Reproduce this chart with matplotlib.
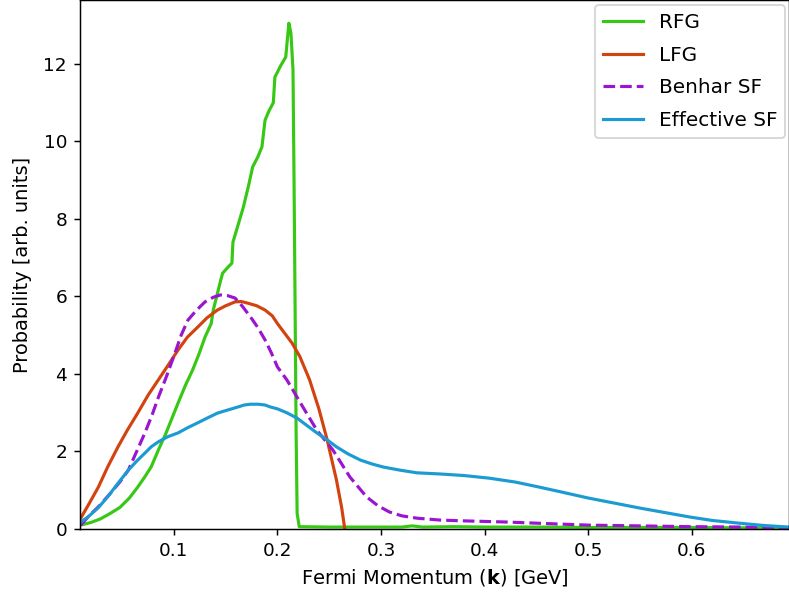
import matplotlib
matplotlib.use("Agg")
import matplotlib.pyplot as plt

# RFG
rfg_x = [0.010, 0.020, 0.029, 0.039, 0.048, 0.057, 0.065, 0.072, 0.078, 0.085, 0.092,
         0.098, 0.104, 0.111, 0.118, 0.124, 0.130, 0.136, 0.138, 0.145, 0.147, 0.152,
         0.156, 0.157, 0.162, 0.167, 0.172, 0.176, 0.181, 0.185, 0.188, 0.192, 0.196,
         0.1975, 0.203, 0.208, 0.211, 0.213, 0.215, 0.216, 0.217, 0.218, 0.219, 0.221,
         0.25, 0.30, 0.32, 0.33, 0.34, 0.37, 0.40, 0.45, 0.50, 0.55, 0.60, 0.65, 0.694]
rfg_y = [0.10, 0.17, 0.26, 0.41, 0.56, 0.80, 1.08, 1.35, 1.60, 2.04, 2.45,
         2.85, 3.25, 3.70, 4.10, 4.50, 4.95, 5.30, 5.65, 6.40, 6.60, 6.75,
         6.86, 7.40, 7.85, 8.30, 8.85, 9.34, 9.60, 9.86, 10.55, 10.80, 11.00,
         11.66, 11.95, 12.18, 13.05, 12.80, 11.85, 9.00, 5.80, 2.50, 0.40, 0.06,
         0.05, 0.05, 0.05, 0.08, 0.05, 0.06, 0.05, 0.05, 0.04, 0.04, 0.04, 0.03, 0.03]

# LFG
lfg_x = [0.010, 0.018, 0.027, 0.036, 0.046, 0.055, 0.065, 0.075, 0.085, 0.095, 0.104,
         0.113, 0.123, 0.132, 0.142, 0.150, 0.159, 0.165, 0.171, 0.180, 0.188, 0.195,
         0.200, 0.207, 0.214, 0.2216, 0.231, 0.240, 0.248, 0.257, 0.262, 0.265]
lfg_y = [0.28, 0.65, 1.08, 1.60, 2.12, 2.55, 2.99, 3.45, 3.85, 4.25, 4.62,
         4.95, 5.21, 5.45, 5.65, 5.76, 5.86, 5.87, 5.83, 5.76, 5.65, 5.50,
         5.30, 5.05, 4.80, 4.45, 3.85, 3.10, 2.30, 1.26, 0.55, 0.00]

# Benhar SF
benhar_x = [0.010, 0.017, 0.028, 0.039, 0.048, 0.056, 0.064, 0.072, 0.079, 0.085, 0.093,
            0.101, 0.107, 0.1135, 0.122, 0.130, 0.138, 0.145, 0.152, 0.159, 0.166, 0.174,
            0.181, 0.188, 0.194, 0.200, 0.209, 0.2245, 0.238, 0.2535, 0.270, 0.286, 0.297,
            0.308, 0.320, 0.3345, 0.357, 0.380, 0.421, 0.460, 0.500, 0.550, 0.600, 0.650, 0.694]
benhar_y = [0.10, 0.31, 0.60, 0.93, 1.22, 1.52, 2.00, 2.48, 2.95, 3.40, 3.95,
            4.54, 5.00, 5.39, 5.65, 5.86, 5.98, 6.04, 6.02, 5.96, 5.75, 5.47,
            5.20, 4.88, 4.55, 4.18, 3.85, 3.15, 2.55, 2.04, 1.34, 0.83, 0.60,
            0.44, 0.34, 0.28, 0.23, 0.21, 0.18, 0.14, 0.10, 0.08, 0.06, 0.05, 0.03]

# Effective SF
eff_x = [0.010, 0.017, 0.027, 0.036, 0.046, 0.056, 0.064, 0.072, 0.078, 0.085, 0.094,
         0.104, 0.113, 0.123, 0.132, 0.142, 0.152, 0.162, 0.168, 0.174, 0.181, 0.188,
         0.193, 0.200, 0.209, 0.219, 0.228, 0.238, 0.248, 0.257, 0.268, 0.280, 0.291,
         0.302, 0.318, 0.3345, 0.357, 0.380, 0.405, 0.430, 0.453, 0.475, 0.500, 0.525,
         0.550, 0.575, 0.598, 0.620, 0.646, 0.670, 0.694]
eff_y = [0.18, 0.31, 0.55, 0.83, 1.18, 1.52, 1.75, 1.96, 2.12, 2.25, 2.38,
         2.48, 2.61, 2.74, 2.86, 2.99, 3.07, 3.15, 3.20, 3.22, 3.22, 3.20,
         3.15, 3.10, 3.00, 2.86, 2.68, 2.48, 2.30, 2.12, 1.94, 1.78, 1.68,
         1.60, 1.52, 1.45, 1.42, 1.38, 1.31, 1.21, 1.08, 0.95, 0.80, 0.67,
         0.54, 0.42, 0.31, 0.22, 0.15, 0.09, 0.05]

labels = ["RFG", "LFG", "Benhar SF", "Effective SF"]
colors = ["#36c814", "#d2430f", "#9b15d0", "#1b9bd2"]

DPI = 133
fig = plt.figure(figsize=(789 / DPI, 601 / DPI), dpi=DPI)
ax = fig.add_axes([80 / 789, 1 - 529 / 601, 1 - 80 / 789, 529 / 601])

ax.plot(rfg_x, rfg_y, color=colors[0], lw=1.7, label=labels[0])
ax.plot(lfg_x, lfg_y, color=colors[1], lw=1.7, label=labels[1])
ax.plot(benhar_x, benhar_y, color=colors[2], lw=1.7, ls="--", label=labels[2])
ax.plot(eff_x, eff_y, color=colors[3], lw=1.7, label=labels[3])

ax.set_xlim(0.0093, 0.694)
ax.set_ylim(0, 13.65)
ax.set_xticks([0.1, 0.2, 0.3, 0.4, 0.5, 0.6])
ax.set_xticklabels(["0.1", "0.2", "0.3", "0.4", "0.5", "0.6"])
ax.set_yticks([0, 2, 4, 6, 8, 10, 12])
ax.set_xlabel(r"Fermi Momentum ($\mathbf{k}$) [GeV]", fontsize=10.5)
ax.set_ylabel("Probability [arb. units]", fontsize=10.5, labelpad=6)
ax.legend(loc="upper right", bbox_to_anchor=(0.9945, 0.99), borderaxespad=0,
          labelspacing=0.68, fontsize=10.8, handlelength=2.0)

fig.savefig("out.png", dpi=DPI)
